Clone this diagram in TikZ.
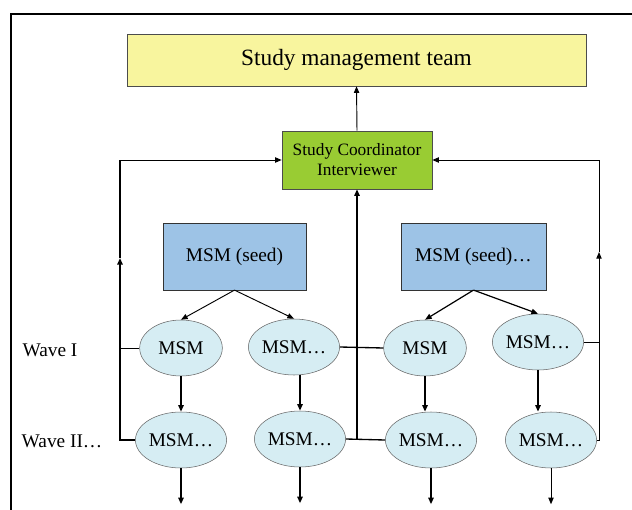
\documentclass[tikz,border=0pt]{standalone}
\usepackage{fontspec}
\setmainfont{Liberation Serif}
\usetikzlibrary{arrows.meta,shapes.geometric}
\definecolor{teamyellow}{RGB}{248,245,158}
\definecolor{coordgreen}{RGB}{153,204,51}
\definecolor{seedblue}{RGB}{157,195,230}
\definecolor{msmcyan}{RGB}{214,237,243}
\tikzset{
	arr/.style={-{Triangle[length=5pt,width=4pt]}},
	fatline/.style={line width=1.6pt},
	slimline/.style={line width=0.7pt},
	msm/.style={ellipse, draw=black!60, fill=msmcyan, minimum width=62pt,
		minimum height=42pt, inner sep=0pt, font=\fontsize{14.5}{16}\selectfont},
	seed/.style={rectangle, draw=black!80, fill=seedblue, minimum width=107pt,
		minimum height=50pt, inner sep=0pt, font=\fontsize{14.5}{16}\selectfont},
	wave/.style={font=\fontsize{14.5}{16}\selectfont}
}

\begin{document}
\begin{tikzpicture}[x=0.75pt, y=-0.75pt]
	\useasboundingbox (0,0) rectangle (632,510);
	% frame
	\draw[line width=1.5pt] (11,510) -- (11,14) -- (632,14);

	% boxes
	\node[draw=black!70, fill=teamyellow, minimum width=344pt, minimum height=39pt,
		inner sep=0pt, font=\fontsize{17.5}{20}\selectfont] (team) at (356.5,60) {Study management team};
	\node[draw=black!70, fill=coordgreen, minimum width=112.5pt, minimum height=43.5pt,
		inner sep=0pt, align=center, font=\fontsize{13}{15}\selectfont] (coord) at (357,160)
		{Study Coordinator\\Interviewer};
	\node[seed] (seedA) at (234.5,256.5) {MSM (seed)};
	\node[seed, minimum width=109pt] (seedB) at (473.5,256.5) {MSM (seed)…};

	% wave I
	\node[msm] (a1) at (181,348) {MSM};
	\node[msm] (a2) at (294,347) {MSM…};
	\node[msm] (a3) at (425,348) {MSM};
	\node[msm] (a4) at (538,342) {MSM…};
	% wave II
	\node[msm] (b1) at (181,440) {MSM…};
	\node[msm] (b2) at (300,439) {MSM…};
	\node[msm] (b3) at (431,440) {MSM…};
	\node[msm] (b4) at (551,440) {MSM…};

	\node[wave] (wave1) at (50,350) {Wave I};
	\node[wave] (wave2) at (62,441) {Wave II…};

	\coordinate (lft) at (120,160);
	\coordinate (lmid) at (120,258);
	\coordinate (rgt) at (599,160);
	\coordinate (rmid) at (599,252);

	% up to the team
	\draw[slimline, arr] (coord.north) -- (team.south);

	% seeds to wave I
	\draw[slimline, arr] (seedA.south) -- (a1.north);
	\draw[slimline, arr] (seedA.south) -- (a2.north);
	\draw[line width=0.9pt, arr] (seedB.south) -- (a3.north);
	\draw[line width=0.9pt, arr] (seedB.south) -- (a4.north);

	% wave I to wave II
	\draw[fatline, arr] (a1.south) -- (a1.south |- b1.north);
	\draw[fatline, arr] (b2.north |- a2.south) -- (b2.north);
	\draw[fatline, arr] (a3.south) -- (a3.south |- b3.north);
	\draw[fatline, arr] (a4.south) -- (a4.south |- b4.north);

	% further waves
	\foreach \n in {b1,b2,b3}
		\draw[fatline, arr] (\n.south) -- ++(0,36);
	\draw[slimline, arr] (b4.south) -- ++(0,36);

	% left loop
	\draw[fatline, arr] (b1.west) -| (lmid);
	\draw[fatline] (lmid) -- (lft);
	\draw[slimline, arr] (lft) -- (coord.west);
	\draw[slimline] (a1.west) -- (a1.west -| lft);

	% middle
	\draw[line width=1pt] (a2.east) -- (a3.west);
	\draw[line width=1pt] (b2.east) -- (b3.west);
	\draw[fatline, arr] (coord.south |- b2.east) -- (coord.south);

	% right loop
	\draw[slimline, arr] (b4.east) -| (rmid);
	\draw[slimline] (rmid) -- (rgt);
	\draw[slimline, arr] (rgt) -- (coord.east);
	\draw[slimline] (a4.east) -- (a4.east -| rgt);
\end{tikzpicture}
\end{document}
